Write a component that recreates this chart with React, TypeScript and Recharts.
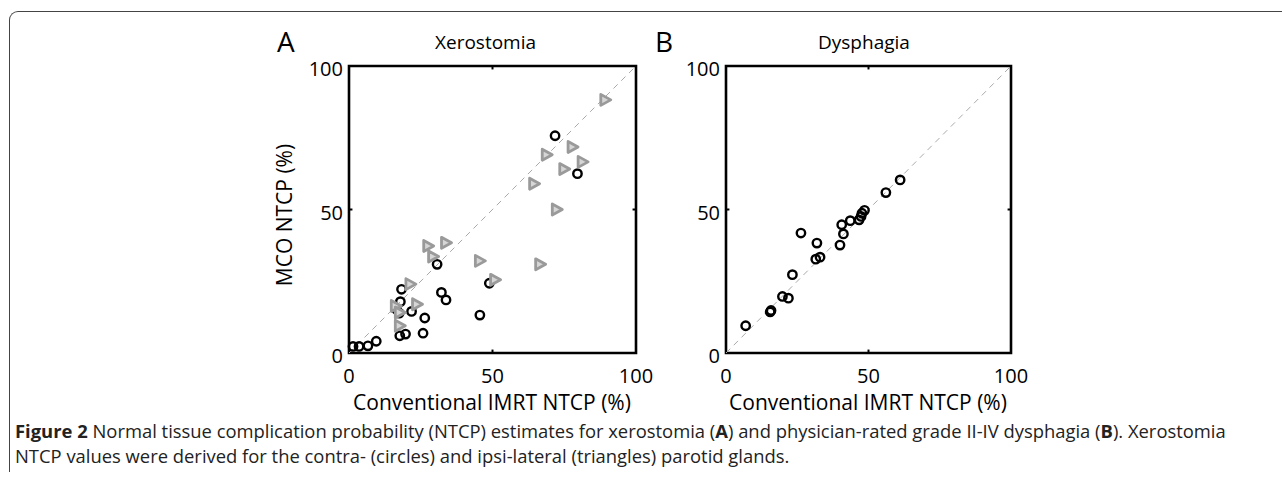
import React from 'react';
import { ScatterChart, Scatter, XAxis, YAxis, ReferenceLine, ReferenceArea } from 'recharts';

// ---- data ----
const axisTicks = [0, 50, 100];

// Panel A – Xerostomia, contra-lateral parotid (circles)
const xeroContraConv = [71.8, 79.6, 30.7, 48.9, 32.2, 33.8, 45.6, 18.3, 17.9, 16.5, 17.5, 21.8, 26.4, 25.8, 17.7, 19.7, 1.4, 3.5, 6.6, 9.5];
const xeroContraMco = [75.7, 62.5, 30.9, 24.3, 21.1, 18.5, 13.2, 22.2, 17.9, 15.3, 13.9, 14.5, 12.2, 6.9, 6.0, 6.6, 2.3, 2.3, 2.5, 4.1];

// Panel A – Xerostomia, ipsi-lateral parotid (triangles)
const xeroIpsiConv = [89.3, 68.9, 77.9, 81.4, 75.0, 64.5, 72.4, 27.6, 33.8, 29.3, 45.6, 66.6, 50.9, 21.4, 23.7, 16.3, 17.7, 17.7];
const xeroIpsiMco = [88.2, 69.1, 71.8, 66.6, 64.1, 59.0, 50.0, 37.3, 38.4, 33.6, 32.1, 30.9, 25.5, 24.0, 17.0, 16.4, 14.1, 9.5];

// Panel B – Dysphagia (circles)
const dysConv = [6.9, 15.5, 15.8, 19.8, 21.9, 23.3, 26.3, 31.9, 31.5, 33.0, 40.0, 41.2, 40.6, 43.6, 46.7, 47.4, 47.7, 48.6, 56.1, 61.1];
const dysMco = [9.5, 14.3, 14.8, 19.7, 19.1, 27.3, 41.8, 38.3, 32.7, 33.4, 37.6, 41.5, 44.7, 46.1, 46.4, 47.6, 48.7, 49.7, 55.9, 60.3];

const zip = (xs: number[], ys: number[]) => xs.map((x, i) => ({ x, y: ys[i] }));
const xeroContra = zip(xeroContraConv, xeroContraMco);
const xeroIpsi = zip(xeroIpsiConv, xeroIpsiMco);
const dysphagia = zip(dysConv, dysMco);

const FONT = '"Open Sans", "Noto Sans", sans-serif';

const CircleShape = (props: any) => (
  <circle cx={props.cx} cy={props.cy} r={4.2} fill="none" stroke="#000" strokeWidth={2.4} />
);

const TriangleShape = (props: any) => {
  const { cx, cy } = props;
  const d = `M${cx - 4.5},${cy - 5.5} L${cx + 5.5},${cy} L${cx - 4.5},${cy + 5.5} Z`;
  return <path d={d} fill="#d6d6d6" stroke="#9a9a9a" strokeWidth={2.8} strokeLinejoin="round" />;
};

const YTick = (props: any) => {
  const { x, y, payload } = props;
  return (
    <text x={x} y={y + 3} dy="0.355em" textAnchor="end" fontSize={20} fontFamily={FONT} fill="#000">
      {payload.value}
    </text>
  );
};

const XTick = (props: any) => {
  const { x, y, payload } = props;
  return (
    <text x={x} y={y} dy="0.71em" textAnchor="middle" fontSize={20} fontFamily={FONT} fill="#000">
      {payload.value}
    </text>
  );
};

function Panel({ children, yWidth, width }: { children: React.ReactNode; yWidth: number; width: number }) {
  return (
    <ScatterChart width={width} height={413} margin={{ top: 66, right: 44, bottom: 0, left: 0 }}>
      <XAxis
        type="number"
        dataKey="x"
        domain={[0, 100]}
        ticks={axisTicks}
        axisLine={false}
        tickLine={false}
        tickSize={0}
        tickMargin={16}
        height={60}
        tick={<XTick />}
        interval={0}
      />
      <YAxis
        type="number"
        dataKey="y"
        domain={[0, 100]}
        ticks={axisTicks}
        axisLine={false}
        tickLine={false}
        tickSize={0}
        tickMargin={6}
        width={yWidth}
        tick={<YTick />}
        interval={0}
      />
      <ReferenceLine
        segment={[{ x: 0, y: 0 }, { x: 100, y: 100 }]}
        stroke="#aaa"
        strokeWidth={1}
        strokeDasharray="6 5"
        ifOverflow="visible"
      />
      {children}
      <ReferenceLine segment={[{ x: 50, y: 0 }, { x: 50, y: 1.2 }]} stroke="#000" strokeWidth={2} ifOverflow="visible" />
      <ReferenceLine segment={[{ x: 50, y: 100 }, { x: 50, y: 98.8 }]} stroke="#000" strokeWidth={2} ifOverflow="visible" />
      <ReferenceLine segment={[{ x: 0, y: 50 }, { x: 1.2, y: 50 }]} stroke="#000" strokeWidth={2} ifOverflow="visible" />
      <ReferenceLine segment={[{ x: 100, y: 50 }, { x: 98.8, y: 50 }]} stroke="#000" strokeWidth={2} ifOverflow="visible" />
      <ReferenceArea
        x1={0}
        x2={100}
        y1={0}
        y2={100}
        fill="none"
        fillOpacity={0}
        stroke="#000"
        strokeWidth={2.6}
        ifOverflow="visible"
      />
    </ScatterChart>
  );
}

export default function App() {
  return (
    <div style={{ position: 'absolute', left: 0, top: 0, width: 1282, height: 483, background: '#fff', overflow: 'hidden' }}>
      <div
        style={{
          position: 'absolute',
          left: 9,
          top: 11,
          width: 1300,
          height: 461,
          borderTop: '1.5px solid #444',
          borderLeft: '1.5px solid #444',
          borderTopLeftRadius: 9,
          boxSizing: 'border-box',
        }}
      />
      <div style={{ position: 'absolute', left: 250, top: 0 }}>
        <Panel yWidth={99} width={430}>
          <Scatter data={xeroContra} shape={<CircleShape />} isAnimationActive={false} />
          <Scatter data={xeroIpsi} shape={<TriangleShape />} isAnimationActive={false} />
        </Panel>
      </div>
      <div style={{ position: 'absolute', left: 640, top: 0 }}>
        <Panel yWidth={86} width={415}>
          <Scatter data={dysphagia} shape={<CircleShape />} isAnimationActive={false} />
        </Panel>
      </div>
      <svg
        width={1282}
        height={483}
        style={{ position: 'absolute', left: 0, top: 0, pointerEvents: 'none' }}
        fontFamily={FONT}
      >
        <text x={277} y={52} fontSize={28} fill="#000">A</text>
        <text x={435} y={48.5} fontSize={19} fill="#000">Xerostomia</text>
        <text x={655} y={52} fontSize={28} fill="#000">B</text>
        <text x={818} y={48.5} fontSize={19} fill="#000">Dysphagia</text>

        <text x={292} y={215} fontSize={21} fill="#000" textAnchor="middle" transform="rotate(-90 292 215)">
          MCO NTCP (%)
        </text>
        <text x={492} y={410} fontSize={21} fill="#000" textAnchor="middle">Conventional IMRT NTCP (%)</text>
        <text x={868} y={410} fontSize={21} fill="#000" textAnchor="middle">Conventional IMRT NTCP (%)</text>

        <text x={15} y={437.6} fontSize={18.4} fill="#222">
          <tspan fontWeight="bold">Figure 2</tspan>
          <tspan>{' Normal tissue complication probability (NTCP) estimates for xerostomia ('}</tspan>
          <tspan fontWeight="bold">A</tspan>
          <tspan>{') and physician-rated grade II-IV dysphagia ('}</tspan>
          <tspan fontWeight="bold">B</tspan>
          <tspan>{'). Xerostomia'}</tspan>
        </text>
        <text x={15} y={463.2} fontSize={18.4} fill="#222">
          NTCP values were derived for the contra- (circles) and ipsi-lateral (triangles) parotid glands.
        </text>
      </svg>
    </div>
  );
}
